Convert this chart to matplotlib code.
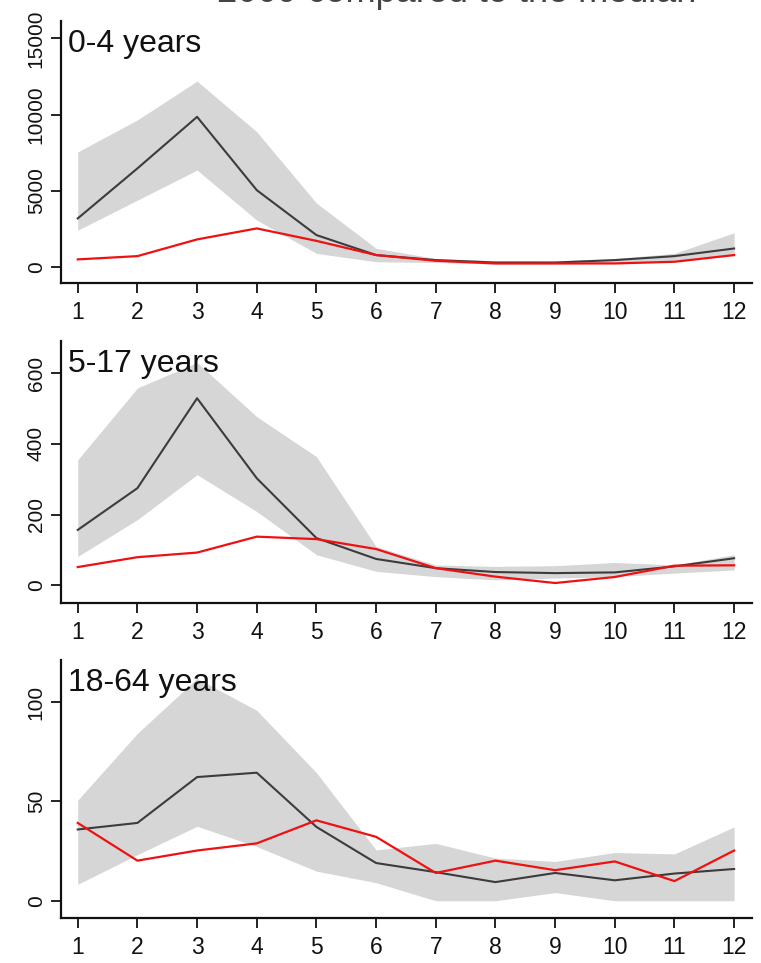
import matplotlib
matplotlib.use("Agg")
import matplotlib.pyplot as plt

plt.rcParams['font.family'] = ['Liberation Sans', 'DejaVu Sans']

months = list(range(1, 13))
month_labels = [str(m) for m in months]

# 0-4 years
age0_median = [3190, 6470, 9850, 5045, 2100, 790, 460, 300, 300, 460, 720, 1220]
age0_upper = [7550, 9650, 12190, 8870, 4200, 1230, 560, 420, 400, 560, 900, 2250]
age0_lower = [2420, 4390, 6360, 3080, 900, 350, 300, 200, 200, 250, 400, 750]
age0_2009 = [505, 720, 1815, 2535, 1720, 790, 415, 240, 240, 240, 350, 790]

# 5-17 years
age5_median = [157, 275, 529, 303, 134, 75, 49, 38, 35, 37, 54, 77]
age5_upper = [355, 558, 630, 477, 364, 110, 58, 54, 56, 65, 58, 87]
age5_lower = [82, 186, 313, 209, 87, 40, 25, 16, 21, 25, 35, 44]
age5_2009 = [52, 80, 93, 138, 131, 103, 49, 25, 7, 24, 56, 57]

# 18-64 years
age18_median = [35.9, 39.2, 62.3, 64.5, 37.2, 19, 14.4, 9.4, 14, 10.3, 13.7, 16]
age18_upper = [50.7, 84.3, 112, 95.9, 64.5, 25.6, 28.9, 21.5, 19.8, 24.3, 23.6, 37.2]
age18_lower = [8.3, 23.2, 37.5, 27.3, 14.9, 9.1, 0, 0, 4.1, 0, 0, 0]
age18_2009 = [39.2, 20.2, 25.3, 28.9, 40.5, 32.2, 14, 20.2, 15.4, 19.8, 9.9, 25.3]

panels = [
    ("0-4 years", age0_median, age0_upper, age0_lower, age0_2009,
     [0, 5000, 10000, 15000], (-1050, 16120)),
    ("5-17 years", age5_median, age5_upper, age5_lower, age5_2009,
     [0, 200, 400, 600], (-49, 691)),
    ("18-64 years", age18_median, age18_upper, age18_lower, age18_2009,
     [0, 50, 100], (-8.8, 121.2)),
]

fig = plt.figure(figsize=(7.61, 9.63), dpi=100)

# axes boxes [left, bottom, width, height] in figure fraction
boxes = [
    [0.0802, 0.706, 0.908, 0.272],
    [0.0802, 0.374, 0.908, 0.272],
    [0.0802, 0.0465, 0.908, 0.268],
]

for box, (label, med, up, lo, cur, yticks, ylim) in zip(boxes, panels):
    ax = fig.add_axes(box)
    ax.fill_between(months, lo, up, color='#d6d6d6', linewidth=0)
    ax.plot(months, med, color='#3c3c3c', linewidth=1.5)
    ax.plot(months, cur, color='#ee1111', linewidth=1.6)

    ax.set_xlim(0.72, 12.3)
    ax.set_ylim(*ylim)
    ax.set_xticks(months)
    ax.set_xticklabels(month_labels)
    ax.set_yticks(yticks)
    ax.set_yticklabels([str(t) for t in yticks], rotation=90, va='center')

    for s in ['top', 'right']:
        ax.spines[s].set_visible(False)
    for s in ['left', 'bottom']:
        ax.spines[s].set_linewidth(1.6)
        ax.spines[s].set_color('#111111')

    ax.tick_params(axis='x', length=7, width=1.3, pad=6, labelsize=16.5, colors='#111111')
    ax.tick_params(axis='y', length=7, width=1.3, pad=4, labelsize=15, colors='#111111')

    ax.annotate(label, xy=(0, 1), xycoords='axes fraction',
                xytext=(7, -31), textcoords='offset pixels',
                ha='left', va='baseline', fontsize=23, color='#111111')

# title, mostly cut off at the top edge (as in the source image)
fig.text(217 / 761, 1 - 1.5 / 963, "2009 compared to the median",
         ha='left', va='baseline', fontsize=26, color='#444444')

fig.savefig("out.png", dpi=100)
